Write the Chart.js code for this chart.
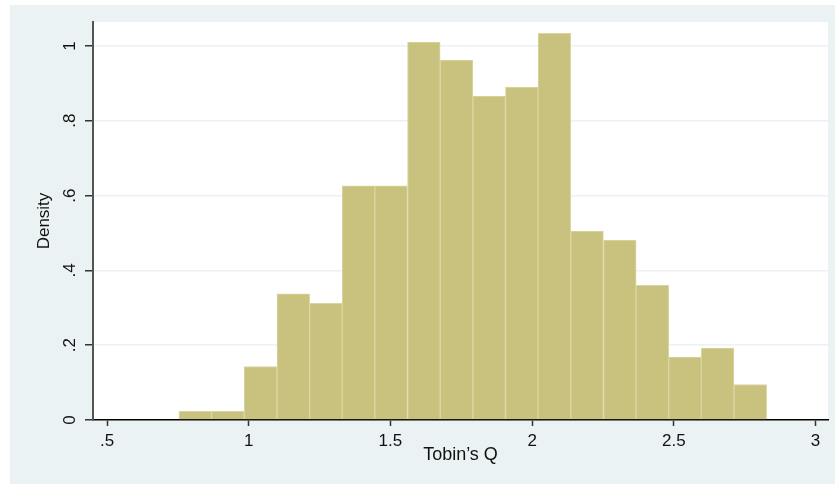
<!DOCTYPE html>
<html>
<head>
<meta charset="utf-8">
<script src="https://cdn.jsdelivr.net/npm/chart.js@4/dist/chart.umd.min.js"></script>
<style>
  html, body { margin: 0; padding: 0; background: #ffffff; }
  canvas { display: block; }
</style>
</head>
<body>
<canvas id="histChart" width="835" height="484"></canvas>
<script>
// ======================================
// Histogram data
// ======================================

const binEdges = [0.754, 0.869, 0.984, 1.100, 1.215, 1.330, 1.445, 1.560, 1.676, 1.791,
                  1.906, 2.021, 2.136, 2.252, 2.367, 2.482, 2.597, 2.712, 2.828];

const density = [0.023, 0.023, 0.143, 0.337, 0.312, 0.626, 0.626, 1.010, 0.962, 0.866,
                 0.890, 1.034, 0.505, 0.481, 0.360, 0.168, 0.192, 0.095];

const xTicks = [0.5, 1, 1.5, 2, 2.5, 3];
const xTickLabels = [".5", "1", "1.5", "2", "2.5", "3"];

const yTicks = [0, 0.2, 0.4, 0.6, 0.8, 1];
const yTickLabels = ["0", ".2", ".4", ".6", ".8", "1"];

// bar centres from the bin edges
const bars = density.map((d, i) => ({
    x: (binEdges[i] + binEdges[i + 1]) / 2,
    y: d
}));

// ===========================
// Background + rotated y labels
// ===========================

const stataLook = {
    id: "stataLook",
    beforeDraw(chart) {
        const ctx = chart.ctx;
        const a = chart.chartArea;
        ctx.save();
        ctx.fillStyle = "#ffffff";
        ctx.fillRect(0, 0, chart.width, chart.height);
        ctx.fillStyle = "#eaf2f3";
        ctx.fillRect(10, 5, chart.width - 10, chart.height - 5);
        ctx.fillStyle = "#ffffff";
        ctx.fillRect(a.left, a.top, a.right - a.left, a.bottom - a.top);
        ctx.restore();
    },
    afterDraw(chart) {
        const ctx = chart.ctx;
        const y = chart.scales.y;
        ctx.save();
        ctx.fillStyle = "#111111";
        ctx.font = "17px 'Liberation Sans', Arial, sans-serif";
        ctx.textAlign = "center";
        ctx.textBaseline = "alphabetic";
        yTicks.forEach((v, i) => {
            ctx.save();
            ctx.translate(y.left + 75, y.getPixelForValue(v));
            ctx.rotate(-Math.PI / 2);
            ctx.fillText(yTickLabels[i], 0, 0);
            ctx.restore();
        });
        ctx.restore();
    }
};

new Chart(document.getElementById("histChart"), {

    type: "bar",

    data: {
        datasets: [{
            data: bars,
            backgroundColor: "#c9c27f",
            borderColor: "#dad6a1",
            borderWidth: 1,
            barPercentage: 1,
            categoryPercentage: 1
        }]
    },

    options: {

        responsive: false,
        animation: false,
        devicePixelRatio: 1,

        layout: {
            padding: { top: 22, right: 7, bottom: 0, left: 0 }
        },

        plugins: {
            legend: { display: false },
            tooltip: { enabled: false }
        },

        scales: {

            x: {
                type: "linear",
                min: 0.4506,
                max: 3.044,
                offset: false,
                afterBuildTicks: s => { s.ticks = xTicks.map(v => ({ value: v })); },
                afterFit: s => { s.height = 64; },
                ticks: {
                    color: "#111111",
                    padding: 5,
                    maxRotation: 0,
                    font: { family: "'Liberation Sans', Arial, sans-serif", size: 17 },
                    callback: v => xTickLabels[xTicks.indexOf(v)]
                },
                grid: {
                    offset: false,
                    drawOnChartArea: false,
                    drawTicks: true,
                    tickLength: 6,
                    tickColor: "#333333",
                    tickWidth: 1.5
                },
                border: { color: "#000000", width: 1.5 },
                title: {
                    display: true,
                    text: "Tobin’s Q",
                    color: "#111111",
                    font: { family: "'Liberation Sans', Arial, sans-serif", size: 18 },
                    padding: { top: 0, bottom: 18 }
                }
            },

            y: {
                min: 0,
                max: 1.064,
                afterBuildTicks: s => { s.ticks = yTicks.map(v => ({ value: v })); },
                afterFit: s => { s.width = 93; },
                ticks: { display: false },
                grid: {
                    color: "#eaf2f3",
                    lineWidth: 1.5,
                    drawTicks: true,
                    tickLength: 8,
                    tickColor: "#333333",
                    tickWidth: 1.5
                },
                border: { color: "#555555", width: 2 },
                title: {
                    display: true,
                    text: "Density",
                    color: "#111111",
                    font: { family: "'Liberation Sans', Arial, sans-serif", size: 17 },
                    padding: { top: 34, bottom: 0 }
                }
            }
        }
    },

    plugins: [stataLook]
});
</script>
</body>
</html>
